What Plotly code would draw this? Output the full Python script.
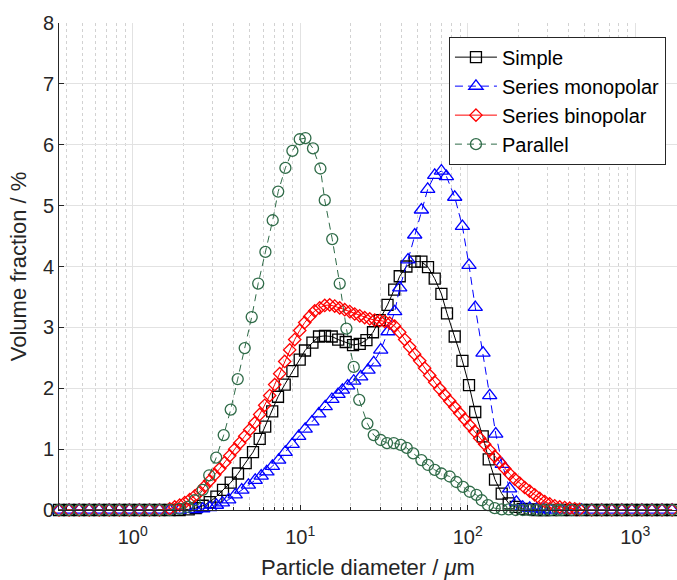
import math
import plotly.graph_objects as go

# Particle size distributions (diameter in micrometres, volume fraction in %)

simple_d = [0.363, 0.417, 0.479, 0.550, 0.631, 0.724, 0.832, 0.955, 1.096, 1.259, 1.445, 1.660, 1.905,
            2.159, 2.377, 2.618, 2.882, 3.160, 3.460, 3.846, 4.252, 4.727, 5.226,
            5.730, 6.180, 6.804, 7.369, 8.080, 8.982, 9.931, 10.68, 11.83, 12.95,
            14.06, 15.42, 16.86, 18.69, 20.67, 22.66, 24.85, 27.20, 29.83, 33.21,
            36.41, 39.27, 43.06, 48.26, 52.91, 57.94, 63.53, 69.65, 75.23, 83.63,
            92.97, 101.8, 110.9, 122.9, 133.5, 145.5, 159.6, 175.7, 193.5, 213.0,
            234.5, 258.2, 284.3, 313.0,
            363.1, 416.9, 478.6, 549.5, 631.0, 724.4, 831.8, 955.0, 1096, 1259, 1445, 1660]
simple_v = [0.00, 0.00, 0.00, 0.00, 0.00, 0.00, 0.00, 0.00, 0.00, 0.00, 0.00, 0.00, 0.00,
            0.01, 0.03, 0.07, 0.13, 0.22, 0.33, 0.45, 0.60, 0.77, 0.95,
            1.17, 1.37, 1.62, 1.86, 2.06, 2.28, 2.47, 2.62, 2.75, 2.85,
            2.86, 2.85, 2.80, 2.76, 2.71, 2.73, 2.79, 2.92, 3.12, 3.37,
            3.62, 3.84, 4.00, 4.08, 4.08, 3.99, 3.80, 3.55, 3.23, 2.85,
            2.45, 2.05, 1.61, 1.21, 0.83, 0.50, 0.27, 0.11, 0.05, 0.02,
            0.01, 0.00, 0.00, 0.00,
            0.00, 0.00, 0.00, 0.00, 0.00, 0.00, 0.00, 0.00, 0.00, 0.00, 0.00, 0.00]

mono_d = [0.363, 0.417, 0.479, 0.550, 0.631, 0.724, 0.832, 0.955, 1.096, 1.259, 1.445, 1.660, 1.905,
          2.377, 2.618, 2.882, 3.160, 3.432, 3.742, 4.092, 4.474, 4.906, 5.387,
          5.850, 6.309, 6.823, 7.440, 8.136, 8.957, 9.796, 10.71, 11.75, 12.90,
          14.10, 15.46, 16.82, 17.86, 19.21, 20.87, 22.97, 25.40, 27.47, 30.24,
          33.44, 36.66, 39.27, 44.02, 48.26, 52.91, 57.70, 63.53, 69.65, 74.62,
          83.63, 92.97, 101.8, 110.9, 123.4, 135.3, 147.0, 160.7, 178.1, 195.3,
          213.0, 234.5, 258.2, 284.3, 313.0,
          363.1, 416.9, 478.6, 549.5, 631.0, 724.4, 831.8, 955.0, 1096, 1259, 1445, 1660]
mono_v = [0.00, 0.00, 0.00, 0.00, 0.00, 0.00, 0.00, 0.00, 0.00, 0.00, 0.00, 0.00, 0.00,
          0.01, 0.02, 0.04, 0.08, 0.12, 0.17, 0.25, 0.33, 0.41, 0.49,
          0.56, 0.63, 0.72, 0.82, 0.95, 1.08, 1.21, 1.33, 1.45, 1.58,
          1.70, 1.82, 1.90, 1.97, 2.04, 2.12, 2.19, 2.30, 2.42, 2.63,
          2.93, 3.26, 3.65, 4.11, 4.52, 4.93, 5.27, 5.50, 5.57, 5.48,
          5.14, 4.66, 4.02, 3.33, 2.58, 1.88, 1.25, 0.75, 0.35, 0.13,
          0.05, 0.03, 0.02, 0.01, 0.00,
          0.00, 0.00, 0.00, 0.00, 0.00, 0.00, 0.00, 0.00, 0.00, 0.00, 0.00, 0.00]

bino_d = [0.363, 0.417, 0.479, 0.550, 0.631, 0.724, 0.832, 0.955, 1.096, 1.259, 1.445,
          1.663, 1.781, 1.908, 2.044, 2.189, 2.345, 2.512, 2.691, 2.882, 3.087,
          3.307, 3.542, 3.794, 4.064, 4.353, 4.663, 4.994, 5.350, 5.730, 6.138,
          6.574, 7.042, 7.543, 8.080, 8.655, 9.271, 9.932, 10.64, 11.40, 12.21,
          13.07, 14.01, 15.00, 16.07, 17.21, 18.44, 19.75, 21.15, 22.66, 24.27,
          26.00, 27.85, 29.83, 31.95, 34.22, 36.66, 39.27, 42.06, 45.05, 48.26,
          51.69, 55.37, 59.31, 63.53, 68.05, 72.89, 78.08, 83.63, 89.58, 95.96,
          102.8, 110.1, 117.9, 126.3, 135.3, 144.9, 155.3, 166.3, 178.1, 190.8,
          204.4, 218.9, 234.5, 251.2, 269.1, 288.2, 308.7, 330.7, 354.2, 379.4,
          406.4, 435.3, 466.3,
          549.5, 631.0, 724.4, 831.8, 955.0, 1096, 1259, 1445, 1660]
bino_v = [0.00, 0.00, 0.00, 0.00, 0.00, 0.00, 0.00, 0.00, 0.00, 0.00, 0.00,
          0.02, 0.05, 0.08, 0.12, 0.17, 0.23, 0.30, 0.39, 0.48, 0.58,
          0.68, 0.78, 0.89, 1.00, 1.10, 1.21, 1.32, 1.43, 1.57, 1.72,
          1.88, 2.06, 2.24, 2.44, 2.63, 2.80, 2.95, 3.08, 3.18, 3.27,
          3.32, 3.36, 3.37, 3.35, 3.32, 3.29, 3.26, 3.22, 3.19, 3.16,
          3.14, 3.12, 3.11, 3.10, 3.07, 3.02, 2.92, 2.80, 2.68, 2.56,
          2.45, 2.33, 2.21, 2.10, 1.99, 1.89, 1.79, 1.69, 1.59, 1.49,
          1.39, 1.29, 1.18, 1.08, 0.98, 0.88, 0.78, 0.68, 0.59, 0.51,
          0.44, 0.37, 0.31, 0.25, 0.19, 0.14, 0.10, 0.07, 0.05, 0.04,
          0.03, 0.02, 0.01,
          0.00, 0.00, 0.00, 0.00, 0.00, 0.00, 0.00, 0.00, 0.00]

par_d = [0.363, 0.417, 0.479, 0.550, 0.631, 0.724, 0.832, 0.955, 1.096, 1.259, 1.445, 1.660, 1.905,
         2.130, 2.345, 2.618, 2.862, 3.151, 3.493, 3.846, 4.235, 4.662, 5.133,
         5.613, 6.197, 6.851, 7.389, 8.158, 8.982, 9.931, 10.74, 11.92, 13.20,
         14.01, 15.53, 17.21, 18.87, 20.87, 22.51, 25.19, 27.47, 30.24, 32.98,
         36.16, 39.81, 43.24, 47.28, 52.91, 57.94, 63.53, 69.65, 78.08, 85.61,
         93.74, 102.8, 112.7, 121.2, 132.2, 144.9, 159.6, 175.7, 193.5, 213.0,
         234.5, 258.2, 284.3, 313.0, 344.6,
         363.1, 416.9, 478.6, 549.5, 631.0, 724.4, 831.8, 955.0, 1096, 1259, 1445, 1660]
par_v = [0.00, 0.00, 0.00, 0.00, 0.00, 0.00, 0.00, 0.00, 0.00, 0.00, 0.00, 0.00, 0.02,
         0.05, 0.16, 0.33, 0.57, 0.86, 1.23, 1.65, 2.15, 2.66, 3.17,
         3.72, 4.24, 4.76, 5.23, 5.62, 5.90, 6.09, 6.11, 5.94, 5.61,
         5.09, 4.45, 3.72, 2.98, 2.35, 1.81, 1.42, 1.23, 1.15, 1.10,
         1.10, 1.07, 1.02, 0.93, 0.82, 0.74, 0.66, 0.60, 0.55, 0.46,
         0.38, 0.30, 0.25, 0.16, 0.08, 0.03, 0.01, 0.01, 0.00, 0.00,
         0.00, 0.00, 0.00, 0.00, 0.00,
         0.00, 0.00, 0.00, 0.00, 0.00, 0.00, 0.00, 0.00, 0.00, 0.00, 0.00, 0.00]

x_ticks = [1, 10, 100, 1000]
x_tick_text = ["10<sup>0</sup>", "10<sup>1</sup>", "10<sup>2</sup>", "10<sup>3</sup>"]
y_ticks = [0, 1, 2, 3, 4, 5, 6, 7, 8]

INK = "#262626"
FONT = "Liberation Sans, Arial, Helvetica, sans-serif"

series = [
    ("Simple", simple_d, simple_v, "#000000", "square-open", 11, "solid"),
    ("Series monopolar", mono_d, mono_v, "#0000ff", "triangle-up-open", 12.5, "8px,5px"),
    ("Series binopolar", bino_d, bino_v, "#ff0000", "diamond-open", 9.5, "solid"),
    ("Parallel", par_d, par_v, "#2f6b48", "circle-open", 11, "7px,5px"),
]

fig = go.Figure()
for name, d, v, color, symbol, size, dash in series:
    fig.add_trace(go.Scatter(
        x=d, y=v, name=name, mode="lines+markers",
        line=dict(color=color, width=1, dash=dash),
        marker=dict(symbol=symbol, size=size, color=color, line=dict(width=1.3, color=color)),
        cliponaxis=False,
    ))

fig.update_layout(
    width=677, height=580,
    margin=dict(l=59, r=0, t=23, b=70),
    paper_bgcolor="white", plot_bgcolor="white",
    font=dict(family=FONT, color=INK),
    showlegend=True,
    legend=dict(
        x=0.631, y=0.972, xanchor="left", yanchor="top",
        bgcolor="white", bordercolor=INK, borderwidth=1,
        font=dict(size=20, color="#000000"),
        itemwidth=42,
        tracegroupgap=0,
    ),
)

fig.update_xaxes(
    type="log",
    range=[math.log10(0.363), 3.2495],
    tickvals=x_ticks, ticktext=x_tick_text,
    ticks="inside", ticklen=5, tickcolor=INK,
    tickfont=dict(size=20, color=INK),
    ticklabelstandoff=9,
    showline=True, linecolor=INK, linewidth=1,
    showgrid=True, gridcolor="#e2e2e2", gridwidth=1,
    zeroline=False,
    minor=dict(dtick="D1", ticks="inside", ticklen=3, tickcolor=INK,
               showgrid=True, gridcolor="#d2d2d2", griddash="dot", gridwidth=1),
    title=dict(text="Particle diameter / <i>\u03bc</i>m", font=dict(size=22, color=INK), standoff=12),
)
fig.update_yaxes(
    range=[0, 8],
    tickvals=y_ticks,
    ticks="inside", ticklen=5, tickcolor=INK,
    tickfont=dict(size=20, color=INK),
    showline=True, linecolor=INK, linewidth=1,
    showgrid=True, gridcolor="#e2e2e2", gridwidth=1,
    zeroline=False,
    title=dict(text="Volume fraction / %", font=dict(size=22, color=INK), standoff=10),
)

fig.write_html("out.html")
